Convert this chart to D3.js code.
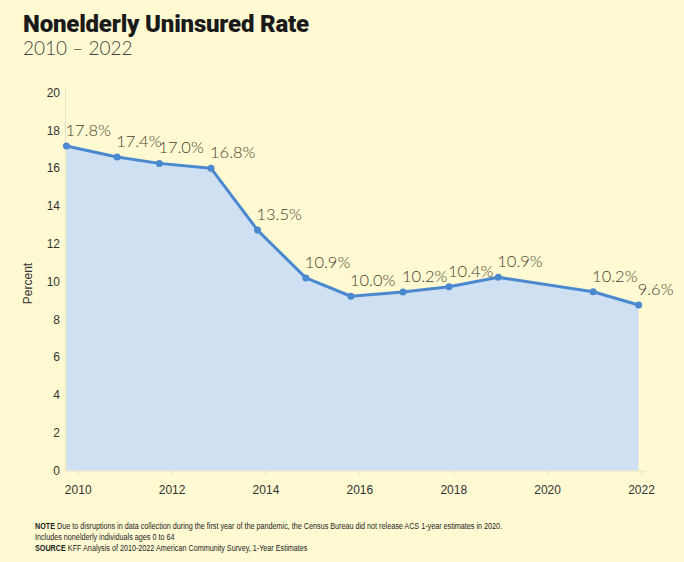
<!DOCTYPE html>
<html>
<head>
<meta charset="utf-8">
<script src="https://cdn.jsdelivr.net/npm/d3@7"></script>
<style>
  html, body { margin: 0; padding: 0; background: #fffad2; }
  svg { display: block; }
</style>
</head>
<body>
<svg id="chart" width="684" height="562"></svg>
<script>
// ---- data ----
const title = "Nonelderly Uninsured Rate";
const subtitle = "2010 \u2013 2022";
// plotted positions (fractional year as placed in the original chart)
const dates = [2009.76, 2010.84, 2011.74, 2012.84, 2013.83, 2014.86, 2015.82, 2016.93, 2017.91, 2018.96, 2020.98, 2021.95];
const values = [17.17, 16.59, 16.25, 15.99, 12.72, 10.19, 9.22, 9.44, 9.72, 10.22, 9.46, 8.76];
const labels = ["17.8%", "17.4%", "17.0%", "16.8%", "13.5%", "10.9%", "10.0%", "10.2%", "10.4%", "10.9%", "10.2%", "9.6%"];
const xTicks = [2010, 2012, 2014, 2016, 2018, 2020, 2022];
const yTicks = [0, 2, 4, 6, 8, 10, 12, 14, 16, 18, 20];
const yAxisTitle = "Percent";
const noteText = "Due to disruptions in data collection during the first year of the pandemic, the Census Bureau did not release ACS 1-year estimates in 2020.";
const noteText2 = "Includes nonelderly individuals ages 0 to 64";
const sourceText = "KFF Analysis of 2010-2022 American Community Survey, 1-Year Estimates";

const data = dates.map((d, i) => ({ x: d, y: values[i], label: labels[i] }));

// ---- layout ----
const svg = d3.select("#chart");
const x = d3.scaleLinear().domain([2010, 2022]).range([77.7, 641]);
const y = d3.scaleLinear().domain([0, 20]).range([470.5, 92.5]);
const axisColor = "#e4e2c6";

// title
svg.append("text").attr("x", 23).attr("y", 32)
  .style("font-family", "Roboto, 'Liberation Sans', sans-serif")
  .style("font-weight", 900).style("font-size", "24px")
  .style("letter-spacing", "-0.2px")
  .attr("fill", "#1a1a1a").text(title);
svg.append("text").attr("x", 23).attr("y", 55)
  .style("font-family", "Lato, 'Open Sans', sans-serif")
  .style("font-weight", 300).style("font-size", "19px")
  .attr("fill", "#444").text(subtitle);

// area
const area = d3.area().x(d => x(d.x)).y0(y(0)).y1(d => y(d.y));
svg.append("path").datum(data).attr("d", area).attr("fill", "#cfe0f3");

// axes lines
svg.append("line").attr("x1", x(dates[0]) - 1).attr("x2", x(dates[0]) - 1)
  .attr("y1", y(20) - 5).attr("y2", y(0)).attr("stroke", axisColor).attr("stroke-width", 1);
svg.append("line").attr("x1", x(dates[0]) - 1).attr("x2", 647)
  .attr("y1", y(0) + 0.5).attr("y2", y(0) + 0.5).attr("stroke", axisColor).attr("stroke-width", 1);

// x axis
const xAxis = svg.append("g").attr("transform", `translate(0,${y(0) + 0.5})`)
  .call(d3.axisBottom(x).tickValues(xTicks).tickFormat(d3.format("d")).tickSize(4).tickPadding(10));
xAxis.select(".domain").remove();
xAxis.selectAll(".tick line").attr("stroke", axisColor);
xAxis.selectAll(".tick text").attr("fill", "#333")
  .style("font-family", "'Liberation Sans', Arial, sans-serif").style("font-size", "12px");

// y axis
const yAxis = svg.append("g").attr("transform", `translate(60,0)`)
  .call(d3.axisLeft(y).tickValues(yTicks).tickSize(0).tickPadding(0));
yAxis.select(".domain").remove();
yAxis.selectAll(".tick text").attr("fill", "#333")
  .style("font-family", "'Liberation Sans', Arial, sans-serif").style("font-size", "12px");

svg.append("text")
  .attr("transform", `translate(32,${(y(0) + y(20)) / 2 + 2}) rotate(-90)`)
  .attr("text-anchor", "middle")
  .style("font-family", "'Liberation Sans', Arial, sans-serif").style("font-size", "12px")
  .attr("fill", "#333").text(yAxisTitle);

// line
const line = d3.line().x(d => x(d.x)).y(d => y(d.y));
svg.append("path").datum(data).attr("d", line)
  .attr("fill", "none").attr("stroke", "#4a89cf").attr("stroke-width", 3).attr("stroke-linejoin", "round");

svg.selectAll("circle.pt").data(data).enter().append("circle").attr("class", "pt")
  .attr("cx", d => x(d.x)).attr("cy", d => y(d.y)).attr("r", 3.5).attr("fill", "#4a89cf");

// value labels
svg.selectAll("text.lbl").data(data).enter().append("text").attr("class", "lbl")
  .attr("x", d => x(d.x) - 1).attr("y", d => y(d.y) - 10)
  .style("font-family", "Lato, 'Open Sans', sans-serif")
  .style("font-weight", 300).style("font-size", "16.5px")
  .attr("fill", "#4a3c30").text(d => d.label);

// footnotes (condensed horizontally to mimic a narrow face)
const foot = svg.append("g")
  .attr("transform", "translate(35,0) scale(0.76,1)")
  .style("font-family", "'Liberation Sans', Arial, sans-serif")
  .style("font-size", "9.5px").attr("fill", "#222");
const t1 = foot.append("text").attr("x", 0).attr("y", 529);
t1.append("tspan").style("font-weight", "bold").text("NOTE");
t1.append("tspan").text(" " + noteText);
foot.append("text").attr("x", 0).attr("y", 540).text(noteText2);
const t3 = foot.append("text").attr("x", 0).attr("y", 551);
t3.append("tspan").style("font-weight", "bold").text("SOURCE");
t3.append("tspan").text(" " + sourceText);
</script>
</body>
</html>
